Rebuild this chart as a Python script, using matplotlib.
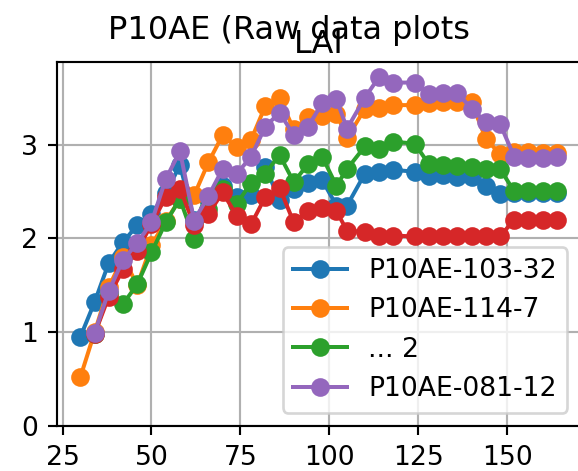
import matplotlib
matplotlib.use("Agg")
import matplotlib.pyplot as plt

days = [30, 34, 38, 42, 46, 50, 54, 58, 62, 66, 70, 74, 78, 82, 86, 90, 94, 98,
        102, 105, 110, 114, 118, 124, 128, 132, 136, 140, 144, 148, 152, 156, 160, 164]
days_late = days[1:]

blue_vals = [0.95, 1.32, 1.74, 1.96, 2.14, 2.26, 2.48, 2.78, 2.20, 2.42, 2.56, 2.44,
             2.46, 2.76, 2.41, 2.53, 2.59, 2.62, 2.35, 2.35, 2.69, 2.71, 2.73, 2.71,
             2.66, 2.67, 2.65, 2.65, 2.56, 2.47, 2.48, 2.48, 2.48, 2.48]
orange_vals = [0.52, 1.00, 1.48, 1.80, 1.50, 1.93, 2.18, 2.42, 2.46, 2.81, 3.10, 2.97,
               3.05, 3.41, 3.50, 3.16, 3.29, 3.30, 3.33, 3.07, 3.38, 3.39, 3.42, 3.42,
               3.44, 3.45, 3.45, 3.45, 3.06, 2.90, 2.92, 2.92, 2.91, 2.91]
green_vals = [0.98, 1.42, 1.30, 1.51, 1.85, 2.17, 2.42, 1.99, 2.31, 2.53, 2.37, 2.59,
              2.69, 2.89, 2.60, 2.79, 2.87, 2.56, 2.74, 2.98, 2.95, 3.03, 3.01, 2.79,
              2.78, 2.77, 2.76, 2.74, 2.74, 2.50, 2.50, 2.50, 2.50]
red_vals = [0.98, 1.38, 1.67, 1.87, 2.15, 2.44, 2.53, 2.14, 2.26, 2.49, 2.24, 2.15,
            2.44, 2.54, 2.17, 2.29, 2.32, 2.29, 2.08, 2.07, 2.03, 2.03, 2.02, 2.02,
            2.02, 2.02, 2.02, 2.02, 2.02, 2.20, 2.20, 2.20, 2.20]
purple_vals = [0.99, 1.44, 1.77, 1.95, 2.17, 2.63, 2.93, 2.19, 2.45, 2.74, 2.69, 2.87,
               3.19, 3.34, 3.10, 3.19, 3.44, 3.48, 3.17, 3.50, 3.72, 3.66, 3.66, 3.54,
               3.55, 3.55, 3.38, 3.24, 3.22, 2.87, 2.86, 2.86, 2.87]

labels = ["P10AE-103-32", "P10AE-114-7", "... 2", "_P10AE-red", "P10AE-081-12"]
xticks = [25, 50, 75, 100, 125, 150]
yticks = [0, 1, 2, 3]

DPI = 192
fig = plt.figure(figsize=(578 / DPI, 471 / DPI), dpi=DPI)
ax = fig.add_axes([0.0978, 0.0955, 0.907, 0.773])

ax.plot(days, blue_vals, marker="o", color="C0", label=labels[0])
ax.plot(days, orange_vals, marker="o", color="C1", label=labels[1])
ax.plot(days_late, green_vals, marker="o", color="C2", label=labels[2])
ax.plot(days_late, red_vals, marker="o", color="C3", label=labels[3])
ax.plot(days_late, purple_vals, marker="o", color="C4", label=labels[4])

ax.set_ylim(bottom=0)
ax.set_xticks(xticks)
ax.set_yticks(yticks)
span = max(days) - min(days)
ax.set_xlim(min(days) - 0.05 * span, max(days) + 0.05 * span)
ax.grid(True)
ax.set_title("LAI", pad=3.5)
ax.legend(loc="lower right")
fig.suptitle("P10AE (Raw data plots", y=0.969)

fig.savefig("out.png", dpi=DPI)
